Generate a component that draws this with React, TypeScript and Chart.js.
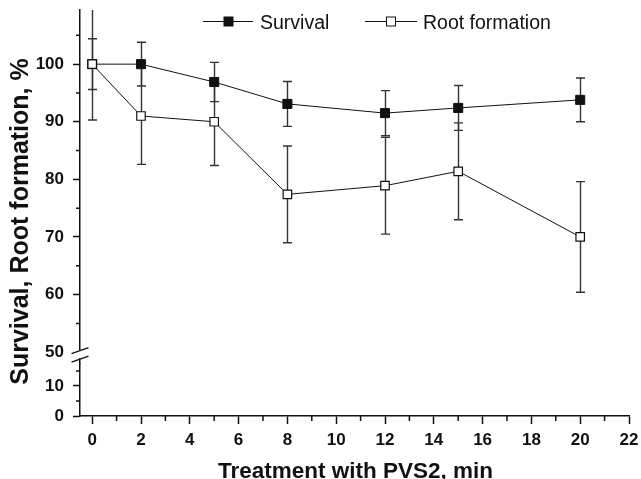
import React, { useEffect, useRef } from 'react';
import { Chart, registerables } from 'chart.js';

Chart.register(...registerables);

// ---------- data ----------
const minutes = [0, 2, 5, 8, 12, 15, 20];
const survival = [100, 100, 96.9, 93.1, 91.5, 92.4, 93.8];
const survivalErr = [4.4, 3.8, 3.4, 3.9, 3.9, 3.9, 3.8];
const rootFormation = [100, 91, 90, 77.4, 78.9, 81.4, 70];
const rootErr = [9.7, 8.4, 7.6, 8.4, 8.4, 8.4, 9.6];

const xTickValues = [0, 1, 2, 3, 4, 5, 6, 7, 8, 9, 10, 11, 12, 13, 14, 15, 16, 17, 18, 19, 20, 21, 22];
const xTickLabels = ['0', '', '2', '', '4', '', '6', '', '8', '', '10', '', '12', '', '14', '', '16', '', '18', '', '20', '', '22'];
const upperTickValues = [50, 55, 60, 65, 70, 75, 80, 85, 90, 95, 100, 105];
const upperTickLabels = ['50', '', '60', '', '70', '', '80', '', '90', '', '100', ''];
const lowerTickValues = [0, 5, 10, 15];
const lowerTickLabels = ['0', '', '10', ''];

const seriesNames = ['Survival', 'Root formation'];
const xTitle = 'Treatment with PVS2, min';
const yTitle = 'Survival, Root formation, %';

const FONT = '"Liberation Sans", Arial, Helvetica, sans-serif';
const INK = '#111';

export default function App() {
  const ref = useRef<HTMLCanvasElement | null>(null);

  useEffect(() => {
    const canvas = ref.current;
    if (!canvas) return;

    const isMajor = (labels: string[], values: number[], v: number) => {
      const i = values.indexOf(v);
      return i >= 0 && labels[i] !== '';
    };

    const zeroPad = (s: any) => {
      s.paddingTop = 0;
      s.paddingBottom = 0;
      s.paddingLeft = 0;
      s.paddingRight = 0;
    };

    const errorBars = {
      id: 'errorBars',
      beforeDatasetsDraw(chart: any) {
        const { ctx, chartArea, scales } = chart;
        const xs = scales.x;
        const ys = scales.y;
        ctx.save();
        ctx.beginPath();
        ctx.rect(chartArea.left, chartArea.top, chartArea.right - chartArea.left, chartArea.bottom - chartArea.top);
        ctx.clip();
        ctx.strokeStyle = '#333';
        ctx.lineWidth = 1.4;
        const draw = (vals: number[], errs: number[]) => {
          vals.forEach((v, i) => {
            const px = Math.round(xs.getPixelForValue(minutes[i])) + 0.5;
            const top = ys.getPixelForValue(v + errs[i]);
            const bot = ys.getPixelForValue(v - errs[i]);
            ctx.beginPath();
            ctx.moveTo(px, top);
            ctx.lineTo(px, bot);
            ctx.moveTo(px - 4.5, top);
            ctx.lineTo(px + 4.5, top);
            ctx.moveTo(px - 4.5, bot);
            ctx.lineTo(px + 4.5, bot);
            ctx.stroke();
          });
        };
        draw(survival, survivalErr);
        draw(rootFormation, rootErr);
        ctx.restore();
      },
    };

    const decor = {
      id: 'decor',
      afterDraw(chart: any) {
        const { ctx, chartArea, scales } = chart;
        const xs = scales.x;
        const yu = scales.y;
        const yl = scales.yLow;
        ctx.save();
        ctx.strokeStyle = INK;
        ctx.lineWidth = 1.5;
        // minor ticks
        ctx.beginPath();
        xTickValues.forEach((v, i) => {
          if (xTickLabels[i] !== '') return;
          const px = xs.getPixelForValue(v);
          ctx.moveTo(px, chartArea.bottom);
          ctx.lineTo(px, chartArea.bottom + 5);
        });
        upperTickValues.forEach((v, i) => {
          if (upperTickLabels[i] !== '') return;
          const py = yu.getPixelForValue(v);
          ctx.moveTo(chartArea.left - 4, py);
          ctx.lineTo(chartArea.left, py);
        });
        lowerTickValues.forEach((v, i) => {
          if (lowerTickLabels[i] !== '') return;
          const py = yl.getPixelForValue(v);
          ctx.moveTo(chartArea.left - 4, py);
          ctx.lineTo(chartArea.left, py);
        });
        ctx.stroke();

        // axis break
        const bx = chartArea.left;
        const by = yu.getPixelForValue(50);
        ctx.fillStyle = '#fff';
        ctx.fillRect(bx - 3, by - 2, 6, 8);
        ctx.lineWidth = 1.3;
        ctx.beginPath();
        ctx.moveTo(bx - 8.5, by + 1.5);
        ctx.lineTo(bx + 8.5, by - 4.5);
        ctx.moveTo(bx - 8.5, by + 10);
        ctx.lineTo(bx + 8.5, by + 4);
        ctx.stroke();

        // legend
        const ly = 21.5;
        const legendItems = [
          { x0: 203, x1: 253, mx: 228.5, tx: 260, fill: INK },
          { x0: 365, x1: 417, mx: 391, tx: 423, fill: '#fff' },
        ];
        ctx.lineWidth = 1;
        ctx.font = `19.5px ${FONT}`;
        ctx.textBaseline = 'alphabetic';
        ctx.textAlign = 'left';
        legendItems.forEach((it, i) => {
          ctx.strokeStyle = INK;
          ctx.beginPath();
          ctx.moveTo(it.x0, ly);
          ctx.lineTo(it.x1, ly);
          ctx.stroke();
          ctx.fillStyle = it.fill;
          ctx.fillRect(it.mx - 4.5, ly - 4.5, 9, 9);
          ctx.strokeRect(it.mx - 4.5, ly - 4.5, 9, 9);
          ctx.fillStyle = INK;
          ctx.fillText(seriesNames[i], it.tx, 28.5);
        });

        // axis titles
        ctx.fillStyle = INK;
        ctx.font = `bold 22.5px ${FONT}`;
        ctx.textAlign = 'center';
        ctx.textBaseline = 'alphabetic';
        ctx.fillText(xTitle, (chartArea.left + chartArea.right) / 2 + 1, 478);
        ctx.save();
        ctx.translate(28, 221.5);
        ctx.rotate(-Math.PI / 2);
        ctx.font = `bold 25px ${FONT}`;
        ctx.fillText(yTitle, 0, 0);
        ctx.restore();
        ctx.restore();
      },
    };

    const tickFont = { family: FONT, size: 17, weight: 'bold' as const };

    const chart = new Chart(canvas, {
      type: 'line',
      data: {
        datasets: [
          {
            label: seriesNames[1],
            data: minutes.map((m, i) => ({ x: m, y: rootFormation[i] })),
            yAxisID: 'y',
            order: 0,
            borderColor: INK,
            borderWidth: 1,
            pointStyle: 'rect',
            pointRadius: 6,
            pointBackgroundColor: '#fff',
            pointBorderColor: INK,
            pointBorderWidth: 1.2,
            tension: 0,
          },
          {
            label: seriesNames[0],
            data: minutes.map((m, i) => ({ x: m, y: survival[i] })),
            yAxisID: 'y',
            order: 1,
            borderColor: INK,
            borderWidth: 1,
            pointStyle: 'rect',
            pointRadius: 6.4,
            pointBackgroundColor: INK,
            pointBorderColor: INK,
            pointBorderWidth: 1,
            tension: 0,
          },
        ],
      },
      options: {
        responsive: false,
        animation: false,
        events: [],
        layout: { padding: { top: 10, right: 12, left: 0, bottom: 0 } },
        plugins: { legend: { display: false }, tooltip: { enabled: false } },
        scales: {
          x: {
            type: 'linear',
            position: 'bottom',
            min: -0.5,
            max: 22,
            afterBuildTicks: (s: any) => {
              s.ticks = xTickValues.map((v) => ({ value: v }));
            },
            afterFit: (s: any) => {
              s.height = 63;
              zeroPad(s);
            },
            ticks: {
              autoSkip: false,
              maxRotation: 0,
              padding: 6,
              color: INK,
              font: tickFont,
              callback: (v: any) => xTickLabels[xTickValues.indexOf(Number(v))] ?? '',
            },
            grid: {
              drawOnChartArea: false,
              drawTicks: true,
              tickLength: 8,
              tickWidth: 1.5,
              tickColor: (c: any) =>
                c.tick && isMajor(xTickLabels, xTickValues, c.tick.value) ? INK : 'rgba(0,0,0,0)',
            },
            border: { display: true, color: INK, width: 1.5 },
          },
          y: {
            type: 'linear',
            position: 'left',
            stack: 'left',
            stackWeight: 353.7,
            weight: 1,
            min: 48,
            max: 109.4,
            afterBuildTicks: (s: any) => {
              s.ticks = upperTickValues.map((v) => ({ value: v }));
            },
            afterFit: (s: any) => {
              s.width = 80;
              zeroPad(s);
            },
            ticks: {
              autoSkip: false,
              padding: 9,
              color: INK,
              font: tickFont,
              callback: (v: any) => upperTickLabels[upperTickValues.indexOf(Number(v))] ?? '',
            },
            grid: {
              drawOnChartArea: false,
              drawTicks: true,
              tickLength: 7,
              tickWidth: 1.5,
              tickColor: (c: any) =>
                c.tick && c.tick.value !== 50 && isMajor(upperTickLabels, upperTickValues, c.tick.value)
                  ? INK
                  : 'rgba(0,0,0,0)',
            },
            border: { display: true, color: INK, width: 1.5 },
          },
          yLow: {
            type: 'linear',
            position: 'left',
            stack: 'left',
            stackWeight: 52.3,
            weight: 0,
            min: 0,
            max: 17.4,
            afterBuildTicks: (s: any) => {
              s.ticks = lowerTickValues.map((v) => ({ value: v }));
            },
            afterFit: (s: any) => {
              s.width = 80;
              zeroPad(s);
            },
            ticks: {
              autoSkip: false,
              padding: 9,
              color: INK,
              font: tickFont,
              callback: (v: any) => lowerTickLabels[lowerTickValues.indexOf(Number(v))] ?? '',
            },
            grid: {
              drawOnChartArea: false,
              drawTicks: true,
              tickLength: 7,
              tickWidth: 1.5,
              tickColor: (c: any) =>
                c.tick && isMajor(lowerTickLabels, lowerTickValues, c.tick.value) ? INK : 'rgba(0,0,0,0)',
            },
            border: { display: true, color: INK, width: 1.5 },
          },
        },
      } as any,
      plugins: [errorBars, decor],
    });

    return () => chart.destroy();
  }, []);

  return (
    <div style={{ position: 'fixed', left: 0, top: 0, width: 641, height: 479, background: '#fff' }}>
      <canvas ref={ref} width={641} height={479} style={{ display: 'block' }} />
    </div>
  );
}
